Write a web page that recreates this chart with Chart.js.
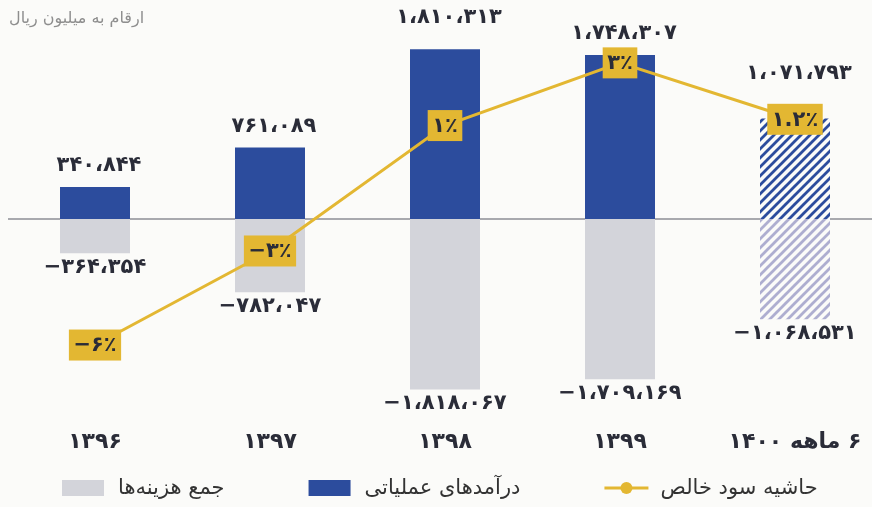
<!DOCTYPE html>
<html><head><meta charset="utf-8">
<script src="https://cdn.jsdelivr.net/npm/chart.js@4/dist/chart.umd.min.js"></script>
<style>html,body{margin:0;padding:0;background:#fbfbf9;overflow:hidden}#wrap{width:872px;height:507px;position:relative}</style>
</head><body><div id="wrap"><canvas id="c" width="872" height="507"></canvas></div>
<script>
// ---- data ----
const categories = ['۱۳۹۶', '۱۳۹۷', '۱۳۹۸', '۱۳۹۹', '\u200F۶ ماهه ۱۴۰۰'];
const revenue = [340844, 761089, 1810313, 1748307, 1071793];
const costs = [-364354, -782047, -1818067, -1709169, -1068531];
const netMargin = [-6, -3, 1, 3, 1.2];
const partialYear = [false, false, false, false, true];
const seriesNames = ['جمع هزینه‌ها', 'درآمدهای عملیاتی', 'حاشیه سود خالص'];
const unitTitle = 'ارقام به میلیون ریال';

// ---- styles ----
const BLUE = '#2c4c9d', GRAY = '#d3d4da', YELLOW = '#e3b732', HATCH_GRAY = '#aeaed0';
const TXT = '#2a2c38';
const FONT = '"DejaVu Sans", sans-serif';

const faDigits = s => String(s).replace(/\d/g, d => '۰۱۲۳۴۵۶۷۸۹'[d]);
const fmtNum = v => (v < 0 ? '\u2212' : '') + faDigits(Math.abs(v).toLocaleString('en-US')).replace(/,/g, '،');
const fmtPct = v => (v < 0 ? '\u2212' : '') + faDigits(String(Math.abs(v))) + '٪';

function hatch(color) {
  const s = 9;
  const c = document.createElement('canvas'); c.width = s; c.height = s;
  const g = c.getContext('2d');
  g.fillStyle = '#fbfbf9'; g.fillRect(0, 0, s, s);
  g.strokeStyle = color; g.lineWidth = 2.8; g.lineCap = 'square';
  g.beginPath();
  for (const k of [-s, 0, s]) { g.moveTo(k, s); g.lineTo(k + s, 0); }
  g.stroke();
  return document.getElementById('c').getContext('2d').createPattern(c, 'repeat');
}
const hatchBlue = hatch(BLUE), hatchGray = hatch(HATCH_GRAY);

const overlay = {
  id: 'overlay',
  beforeDatasetsDraw(chart) {
    const {ctx} = chart; const y0 = chart.scales.y.getPixelForValue(0);
    ctx.save(); ctx.strokeStyle = '#8c8e94'; ctx.lineWidth = 1.5;
    ctx.beginPath(); ctx.moveTo(8, y0); ctx.lineTo(chart.width, y0); ctx.stroke(); ctx.restore();
  },
  afterDatasetsDraw(chart, args, o) {
    const {ctx} = chart;
    ctx.save();
    ctx.font = 'bold 21px ' + FONT; ctx.textAlign = 'center'; ctx.textBaseline = 'middle';
    ctx.fillStyle = TXT;
    chart.getDatasetMeta(1).data.forEach((el, i) => {
      ctx.fillText(fmtNum(revenue[i]), el.x + 4, el.y - 21 - o.revExtra[i]);
    });
    chart.getDatasetMeta(0).data.forEach((el, i) => {
      ctx.fillText(fmtNum(costs[i]), el.x, el.y + 14);
    });
    chart.getDatasetMeta(2).data.forEach((el, i) => {
      const t = fmtPct(netMargin[i]);
      const w = ctx.measureText(t).width + 9, h = 31;
      ctx.fillStyle = YELLOW; ctx.fillRect(el.x - w / 2, el.y - h / 2, w, h);
      ctx.fillStyle = TXT; ctx.fillText(t, el.x, el.y + 1);
    });
    ctx.restore();
  },
  afterDraw(chart, args, o) {
    const {ctx} = chart;
    ctx.save();
    ctx.font = '16px ' + FONT; ctx.fillStyle = '#8e8e8e';
    ctx.textAlign = 'left'; ctx.textBaseline = 'middle';
    ctx.fillText(unitTitle, 9, 19);
    // legend
    ctx.font = '21px ' + FONT;
    let x = o.legendX; const y = o.legendY;
    chart.data.datasets.forEach((ds, i) => {
      if (ds.type === 'line') {
        ctx.strokeStyle = ds.borderColor; ctx.lineWidth = 3;
        ctx.beginPath(); ctx.moveTo(x, y); ctx.lineTo(x + 44, y); ctx.stroke();
        ctx.fillStyle = ds.borderColor; ctx.beginPath(); ctx.arc(x + 22, y, 6, 0, Math.PI * 2); ctx.fill();
      } else {
        ctx.fillStyle = ds.legendColor; ctx.fillRect(x, y - 8, 42, 16);
      }
      ctx.fillStyle = '#333';
      const tx = x + 44 + 12;
      ctx.fillText(ds.label, tx, y + 1);
      x = tx + ctx.measureText(ds.label).width + o.legendGap;
    });
    ctx.restore();
  }
};

new Chart(document.getElementById('c'), {
  data: {
    labels: categories,
    datasets: [
      {type: 'bar', label: seriesNames[0], data: costs, legendColor: GRAY,
       backgroundColor: partialYear.map(p => p ? hatchGray : GRAY), order: 2, clip: false, yAxisID: 'y',
       categoryPercentage: 0.8, barPercentage: 0.5},
      {type: 'bar', label: seriesNames[1], data: revenue, legendColor: BLUE,
       backgroundColor: partialYear.map(p => p ? hatchBlue : BLUE), order: 1, clip: false, yAxisID: 'y',
       categoryPercentage: 0.8, barPercentage: 0.5},
      {type: 'line', label: seriesNames[2], data: netMargin, borderColor: YELLOW, borderWidth: 3,
       pointRadius: 0, tension: 0, order: 0, clip: false, yAxisID: 'y1'}
    ]
  },
  options: {
    responsive: false, animation: false, devicePixelRatio: 1,
    layout: {padding: {left: 95, right: 77, top: 8, bottom: 52}},
    scales: {
      x: {stacked: true, offset: false, grid: {display: false}, border: {display: false},
          ticks: {padding: 0, color: TXT, font: {family: FONT, size: 22, weight: 'bold'}, maxRotation: 0}},
      y: {stacked: true, display: false, min: -2150000, max: 2250000},
      y1: {display: false, min: -8.41, max: 4.75}
    },
    plugins: {
      legend: {display: false}, tooltip: {enabled: false},
      overlay: {revExtra: [0, 0, 11, 0, 24], legendX: 62, legendY: 488, legendGap: 84}
    }
  },
  plugins: [overlay]
});
</script></body></html>
